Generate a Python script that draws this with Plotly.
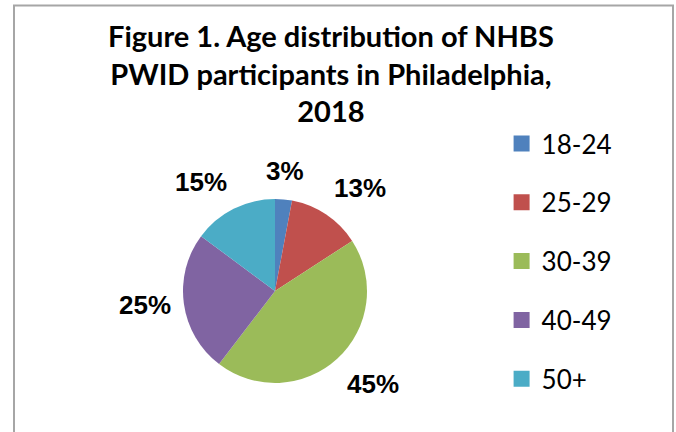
import math
import plotly.graph_objects as go

# Age groups and their share of participants (%)
age_groups = ["18-24", "25-29", "30-39", "40-49", "50+"]
shares = [3, 13, 45, 25, 15]
slice_colors = ["#4F81BD", "#C0504D", "#9BBB59", "#8064A2", "#4BACC6"]

title_text = ("<b>Figure 1. Age distribution of NHBS<br>"
              "PWID participants in Philadelphia,<br>"
              "2018</b>")

W, H = 676, 432
pie_x = [0.2707, 0.5429]
pie_y = [0.1134, 0.5394]

fig = go.Figure()

fig.add_trace(go.Pie(
    labels=age_groups,
    values=shares,
    marker=dict(colors=slice_colors, line=dict(width=0)),
    sort=False,
    direction="clockwise",
    rotation=0,
    textinfo="none",
    hoverinfo="label+percent",
    showlegend=False,
    domain=dict(x=pie_x, y=pie_y),
))

# Percentage labels just beyond the rim, at each slice's mid-angle
cx = (pie_x[0] + pie_x[1]) / 2 * W
cy = (pie_y[0] + pie_y[1]) / 2 * H
radius = (pie_x[1] - pie_x[0]) * W / 2
total = sum(shares)
cum = 0.0
annotations = []
for v in shares:
    mid = (cum + v / 2) / total * 2 * math.pi
    cum += v
    s, c = math.sin(mid), math.cos(mid)
    px = cx + radius * 1.12 * s
    py = cy + radius * 1.12 * c
    xa = "left" if s > 0.3 else ("right" if s < -0.3 else "center")
    ya = "bottom" if c > 0.3 else ("top" if c < -0.3 else "middle")
    annotations.append(dict(
        x=px / W, y=py / H, xref="paper", yref="paper",
        text=f"<b>{v}%</b>", showarrow=False,
        xanchor=xa, yanchor=ya,
        font=dict(family="Liberation Sans, Arial", size=26, color="#000000"),
    ))

annotations.append(dict(
    x=0.49, y=1 - 16 / H, xref="paper", yref="paper",
    xanchor="center", yanchor="top",
    text=title_text, showarrow=False,
    font=dict(family="Lato", size=29, color="#000000"),
))

# Legend entries, one group per age band so the gap between them can be set
for name, col in zip(age_groups, slice_colors):
    fig.add_trace(go.Scatter(
        x=[None], y=[None], mode="markers", name=name,
        legendgroup=name,
        marker=dict(symbol="square", size=16, color=col),
    ))

fig.update_layout(
    width=W, height=H,
    margin=dict(l=0, r=0, t=0, b=0),
    paper_bgcolor="#FFFFFF",
    plot_bgcolor="#FFFFFF",
    xaxis=dict(visible=False),
    yaxis=dict(visible=False),
    annotations=annotations,
    legend=dict(
        x=0.742, xanchor="left",
        y=0.722, yanchor="top",
        font=dict(family="Lato", size=26, color="#000000"),
        tracegroupgap=22,
        itemwidth=30,
        bgcolor="rgba(0,0,0,0)",
    ),
    shapes=[dict(
        type="rect", xref="paper", yref="paper",
        x0=14 / W, x1=673 / W, y0=-0.05, y1=1 - 5.5 / H,
        line=dict(color="#A6A6A6", width=2),
        fillcolor="rgba(0,0,0,0)",
        layer="below",
    )],
)

fig.write_html("out.html")
